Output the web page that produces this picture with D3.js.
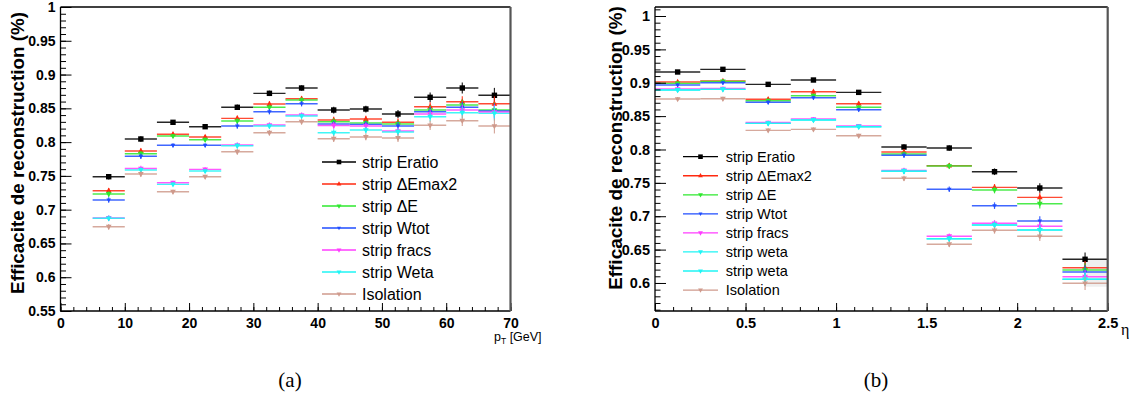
<!DOCTYPE html>
<html>
<head>
<meta charset="utf-8">
<script src="https://cdn.jsdelivr.net/npm/d3@7"></script>
<style>
  html, body { margin: 0; padding: 0; background: #fff; }
  svg { display: block; }
</style>
</head>
<body>
<svg id="chart" width="1137" height="398"></svg>
<script>
// ---------------- DATA ----------------
const ptEdges = [5, 10, 15, 20, 25, 30, 35, 40, 45, 50, 55, 60, 65, 70];
const etaEdges = [0, 0.25, 0.5, 0.75, 1.0, 1.25, 1.5, 1.75, 2.0, 2.25, 2.5];

const ptNames = ["strip Eratio", "strip \u0394Emax2", "strip \u0394E", "strip Wtot", "strip fracs", "strip Weta", "Isolation"];
const etaNames = ["strip Eratio", "strip \u0394Emax2", "strip \u0394E", "strip Wtot", "strip fracs", "strip weta", "strip weta", "Isolation"];

// efficiency vs pT
const ptEratio = [0.7488, 0.8046, 0.8293, 0.8228, 0.8515, 0.8722, 0.8801, 0.8475, 0.8490, 0.8416, 0.8663, 0.8801, 0.8693];
const ptEmax2  = [0.7281, 0.7868, 0.8116, 0.8076, 0.8352, 0.8564, 0.8642, 0.8327, 0.8342, 0.8293, 0.8524, 0.8598, 0.8568];
const ptDeltaE = [0.7232, 0.7828, 0.8090, 0.8036, 0.8312, 0.8515, 0.8623, 0.8302, 0.8283, 0.8268, 0.8475, 0.8549, 0.8475];
const ptWtot   = [0.7143, 0.7790, 0.7953, 0.7953, 0.8238, 0.8450, 0.8568, 0.8268, 0.8263, 0.8238, 0.8450, 0.8515, 0.8460];
const ptFracs  = [0.6877, 0.7609, 0.7399, 0.7597, 0.7957, 0.8253, 0.8401, 0.8246, 0.8238, 0.8164, 0.8416, 0.8475, 0.8445];
const ptWeta   = [0.6872, 0.7587, 0.7375, 0.7572, 0.7947, 0.8238, 0.8386, 0.8139, 0.8179, 0.8150, 0.8376, 0.8435, 0.8426];
const ptIso    = [0.6748, 0.7528, 0.7266, 0.7488, 0.7858, 0.8139, 0.8302, 0.8050, 0.8076, 0.8061, 0.8249, 0.8317, 0.8238];
const ptErr    = [0.004, 0.004, 0.003, 0.003, 0.004, 0.004, 0.004, 0.005, 0.005, 0.006, 0.007, 0.008, 0.011];

// efficiency vs eta
const etaEratio = [0.9161, 0.9201, 0.8976, 0.9041, 0.8856, 0.8037, 0.8022, 0.7667, 0.7423, 0.6355];
const etaEmax2  = [0.9011, 0.9026, 0.8752, 0.8865, 0.8686, 0.7962, 0.7757, 0.7433, 0.7283, 0.6229];
const etaDeltaE = [0.8991, 0.9021, 0.8731, 0.8805, 0.8632, 0.7932, 0.7752, 0.7393, 0.7187, 0.6195];
const etaWtot   = [0.8966, 0.9000, 0.8707, 0.8775, 0.8596, 0.7914, 0.7404, 0.7158, 0.6928, 0.6164];
const etaFracs  = [0.8906, 0.8913, 0.8404, 0.8456, 0.8352, 0.7685, 0.6700, 0.6894, 0.6849, 0.6094];
const etaWeta   = [0.8891, 0.8901, 0.8392, 0.8441, 0.8341, 0.7674, 0.6663, 0.6868, 0.6793, 0.6055];
const etaWeta2  = [0.8891, 0.8901, 0.8392, 0.8441, 0.8341, 0.7674, 0.6663, 0.6868, 0.6793, 0.6055];
const etaIso    = [0.8756, 0.8761, 0.8287, 0.8302, 0.8206, 0.7568, 0.6580, 0.6789, 0.6699, 0.5995];
const etaErr    = [0.003, 0.003, 0.003, 0.003, 0.003, 0.004, 0.004, 0.005, 0.007, 0.010];
const etaShade  = [2.375, 2.5, 0.5944, 0.6344];

const yTicksPt  = [0.55, 0.6, 0.65, 0.7, 0.75, 0.8, 0.85, 0.9, 0.95, 1];
const yTicksEta = [0.6, 0.65, 0.7, 0.75, 0.8, 0.85, 0.9, 0.95, 1];
const xTicksPt  = [0, 10, 20, 30, 40, 50, 60, 70];
const xTicksEta = [0, 0.5, 1, 1.5, 2, 2.5];

// ---------------- STYLE ----------------
const colors = ["#000000", "#ff2a10", "#2ee82e", "#1f4cff", "#ff3cff", "#1ff5f5", "#1ff5f5", "#cf9a8c"];
const markers = ["square", "up", "down", "downS", "down", "down", "down", "down"];
const FONT = "'Liberation Sans', Arial, Helvetica, sans-serif";

const svg = d3.select("#chart");

function markerPath(type, s) {
  if (type === "square") return `M${-s},${-s}H${s}V${s}H${-s}Z`;
  if (type === "up") return `M0,${-s * 1.2}L${s * 1.05},${s * 0.7}L${-s * 1.05},${s * 0.7}Z`;
  if (type === "downS") { const t = s * 0.8; return `M0,${t * 1.2}L${t * 1.05},${-t * 0.7}L${-t * 1.05},${-t * 0.7}Z`; }
  return `M0,${s * 1.2}L${s * 1.05},${-s * 0.7}L${-s * 1.05},${-s * 0.7}Z`;
}

function drawPanel(p) {
  const x = d3.scaleLinear().domain(p.xDomain).range([p.x0, p.x1]);
  const y = d3.scaleLinear().domain(p.yDomain).range([p.y0, p.y1]);
  const g = svg.append("g");

  if (p.shade) {
    g.append("rect")
      .attr("x", x(p.shade[0])).attr("width", x(p.shade[1]) - x(p.shade[0]))
      .attr("y", y(p.shade[3])).attr("height", y(p.shade[2]) - y(p.shade[3]))
      .attr("fill", "#efefef");
  }

  // data
  p.series.forEach((vals, si) => {
    const col = colors[p.colorIdx[si]];
    const mk = markers[p.colorIdx[si]];
    const sg = g.append("g");
    vals.forEach((v, i) => {
      const xl = x(p.edges[i]), xr = x(p.edges[i + 1]), xc = (xl + xr) / 2;
      sg.append("line").attr("x1", xl).attr("x2", xr).attr("y1", y(v)).attr("y2", y(v))
        .attr("stroke", col).attr("stroke-width", 1.4).attr("stroke-opacity", 0.85);
      sg.append("line").attr("x1", xc).attr("x2", xc)
        .attr("y1", y(v - p.err[i])).attr("y2", y(v + p.err[i]))
        .attr("stroke", col).attr("stroke-width", 1.2).attr("stroke-opacity", 0.85);
      sg.append("path").attr("d", markerPath(mk, 2.7))
        .attr("transform", `translate(${xc},${y(v)})`).attr("fill", col);
    });
  });

  // axes ticks (inside)
  const yMajor = d3.axisLeft(y).tickValues(p.yTicks).tickSizeInner(-11).tickSizeOuter(0).tickPadding(5)
    .tickFormat(d => d3.format("")(+d.toFixed(2)));
  const yMinorVals = d3.range(Math.round(p.yDomain[0] * 100), Math.round(p.yDomain[1] * 100) + 1).map(d => d / 100)
    .filter(d => d >= p.yDomain[0] - 1e-9 && d <= p.yDomain[1] + 1e-9);
  const yMinor = d3.axisLeft(y).tickValues(yMinorVals).tickSizeInner(-5.5).tickSizeOuter(0).tickFormat("");
  const xMajor = d3.axisBottom(x).tickValues(p.xTicks).tickSizeInner(-8).tickSizeOuter(0).tickPadding(7)
    .tickFormat(d => d3.format("")(+(+d).toFixed(2)));
  const xMinor = d3.axisBottom(x).tickValues(p.xMinor).tickSizeInner(-4).tickSizeOuter(0).tickFormat("");

  const ax = [
    g.append("g").attr("transform", `translate(${p.x0},0)`).call(yMinor),
    g.append("g").attr("transform", `translate(${p.x0},0)`).call(yMajor),
    g.append("g").attr("transform", `translate(0,${p.y0})`).call(xMinor),
    g.append("g").attr("transform", `translate(0,${p.y0})`).call(xMajor)
  ];
  ax.forEach(a => {
    a.select(".domain").remove();
    a.selectAll("line").attr("stroke", "#000").attr("stroke-width", 1);
    a.selectAll("text").attr("font-family", FONT).attr("font-weight", "bold")
      .attr("font-size", p.tickFont).attr("fill", "#000");
  });

  // frame
  g.append("line").attr("x1", p.x0).attr("x2", p.x1).attr("y1", p.y1).attr("y2", p.y1).attr("stroke", "#000").attr("stroke-width", 1.3);
  g.append("line").attr("x1", p.x0).attr("x2", p.x0).attr("y1", p.y1).attr("y2", p.y0).attr("stroke", "#000").attr("stroke-width", 1.3);
  g.append("line").attr("x1", p.x0).attr("x2", p.x1).attr("y1", p.y0).attr("y2", p.y0).attr("stroke", "#000").attr("stroke-width", 1.3);
  g.append("line").attr("x1", p.x1).attr("x2", p.x1).attr("y1", p.y1).attr("y2", p.y0).attr("stroke", "#555").attr("stroke-width", 2.2);

  // y title
  const yt = g.append("text").attr("transform", `translate(${p.yTitleX},${p.yTitleY}) rotate(-90)`)
    .attr("text-anchor", "middle").attr("dominant-baseline", "middle")
    .attr("font-family", FONT).attr("font-weight", "bold").attr("font-size", 16)
    .text("Efficacite de reconstruction (%)");
  const len = yt.node().getComputedTextLength();
  yt.attr("font-size", 16 * p.yTitleLen / len);

  // legend
  p.names.forEach((n, i) => {
    const ly = p.legY + i * p.legStep;
    const col = colors[p.colorIdx[i]];
    g.append("line").attr("x1", p.legX0).attr("x2", p.legX1).attr("y1", ly).attr("y2", ly)
      .attr("stroke", col).attr("stroke-width", 1.3);
    g.append("path").attr("d", markerPath(markers[p.colorIdx[i]], 2.3))
      .attr("transform", `translate(${(p.legX0 + p.legX1) / 2},${ly})`).attr("fill", col);
    g.append("text").attr("x", p.legTextX).attr("y", ly).attr("dominant-baseline", "central")
      .attr("font-family", FONT).attr("font-size", p.legFont).attr("fill", "#000").text(n);
  });
  return { x, y, g };
}

// Panel (a)
const A = drawPanel({
  xDomain: [0, 70], yDomain: [0.55, 1.0],
  x0: 60.5, x1: 510.5, y0: 311, y1: 7,
  edges: ptEdges, err: ptErr,
  series: [ptEratio, ptEmax2, ptDeltaE, ptWtot, ptFracs, ptWeta, ptIso],
  colorIdx: [0, 1, 2, 3, 4, 5, 7],
  names: ptNames,
  yTicks: yTicksPt, xTicks: xTicksPt, xMinor: d3.range(0, 71, 2),
  tickFont: 14,
  yTitleX: 19, yTitleY: 153, yTitleLen: 282,
  legY: 162, legStep: 22, legX0: 322, legX1: 356, legTextX: 362, legFont: 16
});
A.g.append("text").attr("x", 494).attr("y", 341).attr("font-family", FONT).attr("font-size", 12.5)
  .call(t => {
    t.append("tspan").text("p");
    t.append("tspan").attr("font-size", 8.5).attr("dy", 3).text("T");
    t.append("tspan").attr("dy", -3).text(" [GeV]");
  });

// Panel (b)
const B = drawPanel({
  xDomain: [0, 2.5], yDomain: [0.558, 1.0135],
  x0: 655, x1: 1107.7, y0: 311, y1: 7,
  edges: etaEdges, err: etaErr, shade: etaShade,
  series: [etaEratio, etaEmax2, etaDeltaE, etaWtot, etaFracs, etaWeta, etaWeta2, etaIso],
  colorIdx: [0, 1, 2, 3, 4, 5, 6, 7],
  names: etaNames,
  yTicks: yTicksEta, xTicks: xTicksEta, xMinor: d3.range(0, 26).map(d => d / 10),
  tickFont: 14.5,
  yTitleX: 617, yTitleY: 148, yTitleLen: 284,
  legY: 156.7, legStep: 19.05, legX0: 683, legX1: 718, legTextX: 725.7, legFont: 14.5
});
B.g.append("text").attr("x", 1121).attr("y", 335).attr("font-family", "'Liberation Serif', 'DejaVu Serif', serif")
  .attr("font-size", 16).text("\u03B7");

// captions
svg.append("text").attr("x", 290).attr("y", 387).attr("text-anchor", "middle")
  .attr("font-family", "'Liberation Serif', 'DejaVu Serif', serif").attr("font-size", 21).text("(a)");
svg.append("text").attr("x", 876).attr("y", 387).attr("text-anchor", "middle")
  .attr("font-family", "'Liberation Serif', 'DejaVu Serif', serif").attr("font-size", 21).text("(b)");
</script>
</body>
</html>
